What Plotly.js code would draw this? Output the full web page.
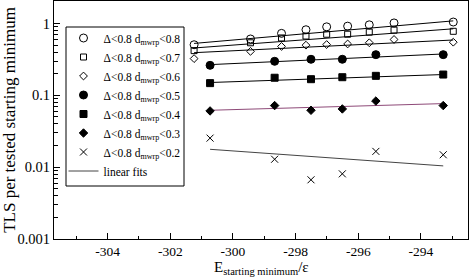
<!DOCTYPE html>
<html>
<head>
<meta charset="utf-8">
<script src="https://cdn.plot.ly/plotly-3.0.1.min.js"></script>
<style>html,body{margin:0;padding:0;background:#fff;}#chart{width:469px;height:277px;}</style>
</head>
<body>
<div id="chart"></div>
<script>
// ---- data ----
const xOpen = [-301.24, -299.44, -298.45, -297.67, -297.01, -296.34, -295.65, -294.86, -292.97];
const yLt08 = [0.507, 0.61, 0.73, 0.82, 0.90, 0.92, 0.96, 1.02, 1.05];
const yLt07 = [0.42, 0.54, 0.63, 0.67, 0.71, 0.71, 0.76, 0.81, 0.78];
const yLt06 = [0.325, 0.41, 0.48, 0.50, 0.51, 0.52, 0.54, 0.60, 0.55];
const xFilled = [-300.73, -298.67, -297.51, -296.51, -295.44, -293.29];
const yLt05 = [0.262, 0.298, 0.318, 0.318, 0.369, 0.369];
const yLt04 = [0.148, 0.176, 0.168, 0.179, 0.187, 0.195];
const yLt03 = [0.0607, 0.0721, 0.062, 0.0647, 0.0834, 0.0721];
const yLt02 = [0.0254, 0.0129, 0.00667, 0.00808, 0.0166, 0.0149];

// linear-fit end points
const fitXOpen = [-301.24, -292.97];
const fit08 = [0.529, 1.09];
const fit07 = [0.457, 0.845];
const fit06 = [0.393, 0.59];
const fitXFilled = [-300.73, -293.29];
const fit05 = [0.268, 0.377];
const fit04 = [0.151, 0.195];
const fit03 = [0.062, 0.0768];
const fit02 = [0.01774, 0.01042];

const seriesNames = [
  'Δ&lt;0.8 d<sub>mwrp</sub>&lt;0.8',
  'Δ&lt;0.8 d<sub>mwrp</sub>&lt;0.7',
  'Δ&lt;0.8 d<sub>mwrp</sub>&lt;0.6',
  'Δ&lt;0.8 d<sub>mwrp</sub>&lt;0.5',
  'Δ&lt;0.8 d<sub>mwrp</sub>&lt;0.4',
  'Δ&lt;0.8 d<sub>mwrp</sub>&lt;0.3',
  'Δ&lt;0.8 d<sub>mwrp</sub>&lt;0.2'
];
const fitName = 'linear fits';
const xTitle = 'E<sub>starting minimum</sub>/ε';
const yTitle = 'TLS per tested starting minimum';

const xTickVals = [-304, -302, -300, -298, -296, -294];
const xTickText = ['-304', '-302', '-300', '-298', '-296', '-294'];
const yTickVals = [0.001, 0.01, 0.1, 1];
const yTickText = ['0.001', '0.01', '0.1', '1'];

// ---- traces ----
function fitLine(x, y, color, show) {
  return {x: x, y: y, mode: 'lines', type: 'scatter', name: fitName,
    showlegend: !!show, legendrank: 2000,
    line: {color: color, width: 1}, hoverinfo: 'skip'};
}
function pts(x, y, name, symbol, size, rank) {
  return {x: x, y: y, mode: 'markers', type: 'scatter', name: name, legendrank: rank,
    marker: {symbol: symbol, size: size, color: 'black', line: {color: 'black', width: 1}}};
}

const traces = [
  fitLine(fitXOpen, fit08, 'black'),
  fitLine(fitXOpen, fit07, 'black'),
  fitLine(fitXOpen, fit06, 'black'),
  fitLine(fitXFilled, fit05, 'black'),
  fitLine(fitXFilled, fit04, 'black'),
  fitLine(fitXFilled, fit03, '#8e4a78'),
  fitLine(fitXFilled, fit02, '#444', true),
  pts(xOpen, yLt08, seriesNames[0], 'circle-open', 8, 1),
  pts(xOpen, yLt07, seriesNames[1], 'square-open', 6, 2),
  pts(xOpen, yLt06, seriesNames[2], 'diamond-open', 6, 3),
  pts(xFilled, yLt05, seriesNames[3], 'circle', 8, 4),
  pts(xFilled, yLt04, seriesNames[4], 'square', 7, 5),
  pts(xFilled, yLt03, seriesNames[5], 'diamond', 6.5, 6),
  pts(xFilled, yLt02, seriesNames[6], 'x-thin-open', 7, 7)
];

const fam = '"Liberation Serif", "Times New Roman", serif';
const font = {family: fam, size: 14, color: 'black'};

const minorY = [];
[0.001, 0.01, 0.1, 1].forEach(d => { for (let k = 2; k <= 9; k++) minorY.push(+(d * k).toPrecision(3)); });

// plot area: left 54px, right 468px, top 1px, bottom 239px
const PW = 414, PH = 238;
const px = v => (v - 54) / PW;
const py = v => (239 - v) / PH;

const layout = {
  width: 469, height: 277,
  margin: {l: 54, r: 1, t: 1, b: 38},
  paper_bgcolor: 'white', plot_bgcolor: 'white',
  font: font,
  showlegend: true,
  legend: {
    x: px(63.5), y: py(23.5), xanchor: 'left', yanchor: 'top',
    bgcolor: 'rgba(0,0,0,0)', borderwidth: 0,
    font: {family: fam, size: 11.5, color: 'black'},
    itemwidth: 30, traceorder: 'normal', tracegroupgap: 0
  },
  shapes: [{
    type: 'rect', xref: 'paper', yref: 'paper', layer: 'above',
    x0: px(66), x1: px(184), y0: py(186), y1: py(27),
    line: {color: 'black', width: 1}, fillcolor: 'rgba(0,0,0,0)'
  }],
  annotations: [{
    text: xTitle, xref: 'paper', yref: 'paper', x: 0.5, y: py(267.5),
    xanchor: 'center', yanchor: 'middle', showarrow: false,
    font: {family: fam, size: 15, color: 'black'}
  }],
  xaxis: {
    range: [-305.71, -292.5],
    tickmode: 'array', tickvals: xTickVals, ticktext: xTickText,
    ticks: 'inside', ticklen: 6, tickwidth: 1, tickcolor: 'black',
    minor: {dtick: 1, tick0: -305, ticks: 'inside', ticklen: 3.5, tickcolor: 'black', showgrid: false},
    showline: true, linecolor: 'black', linewidth: 1, mirror: true,
    showgrid: false, zeroline: false,
    tickfont: {family: fam, size: 13.5, color: 'black'}
  },
  yaxis: {
    type: 'log', range: [-3, 0.314],
    tickmode: 'array', tickvals: yTickVals, ticktext: yTickText,
    ticks: 'inside', ticklen: 6, tickwidth: 1, tickcolor: 'black',
    minor: {tickmode: 'array', tickvals: minorY, ticks: 'inside', ticklen: 3.5, tickcolor: 'black', showgrid: false},
    showline: true, linecolor: 'black', linewidth: 1, mirror: true,
    showgrid: false, zeroline: false,
    tickfont: {family: fam, size: 14.5, color: 'black'},
    title: {text: yTitle, font: {family: fam, size: 17, color: 'black'}, standoff: 4}
  }
};

Plotly.newPlot('chart', traces, layout, {displayModeBar: false, staticPlot: true});
</script>
</body>
</html>
